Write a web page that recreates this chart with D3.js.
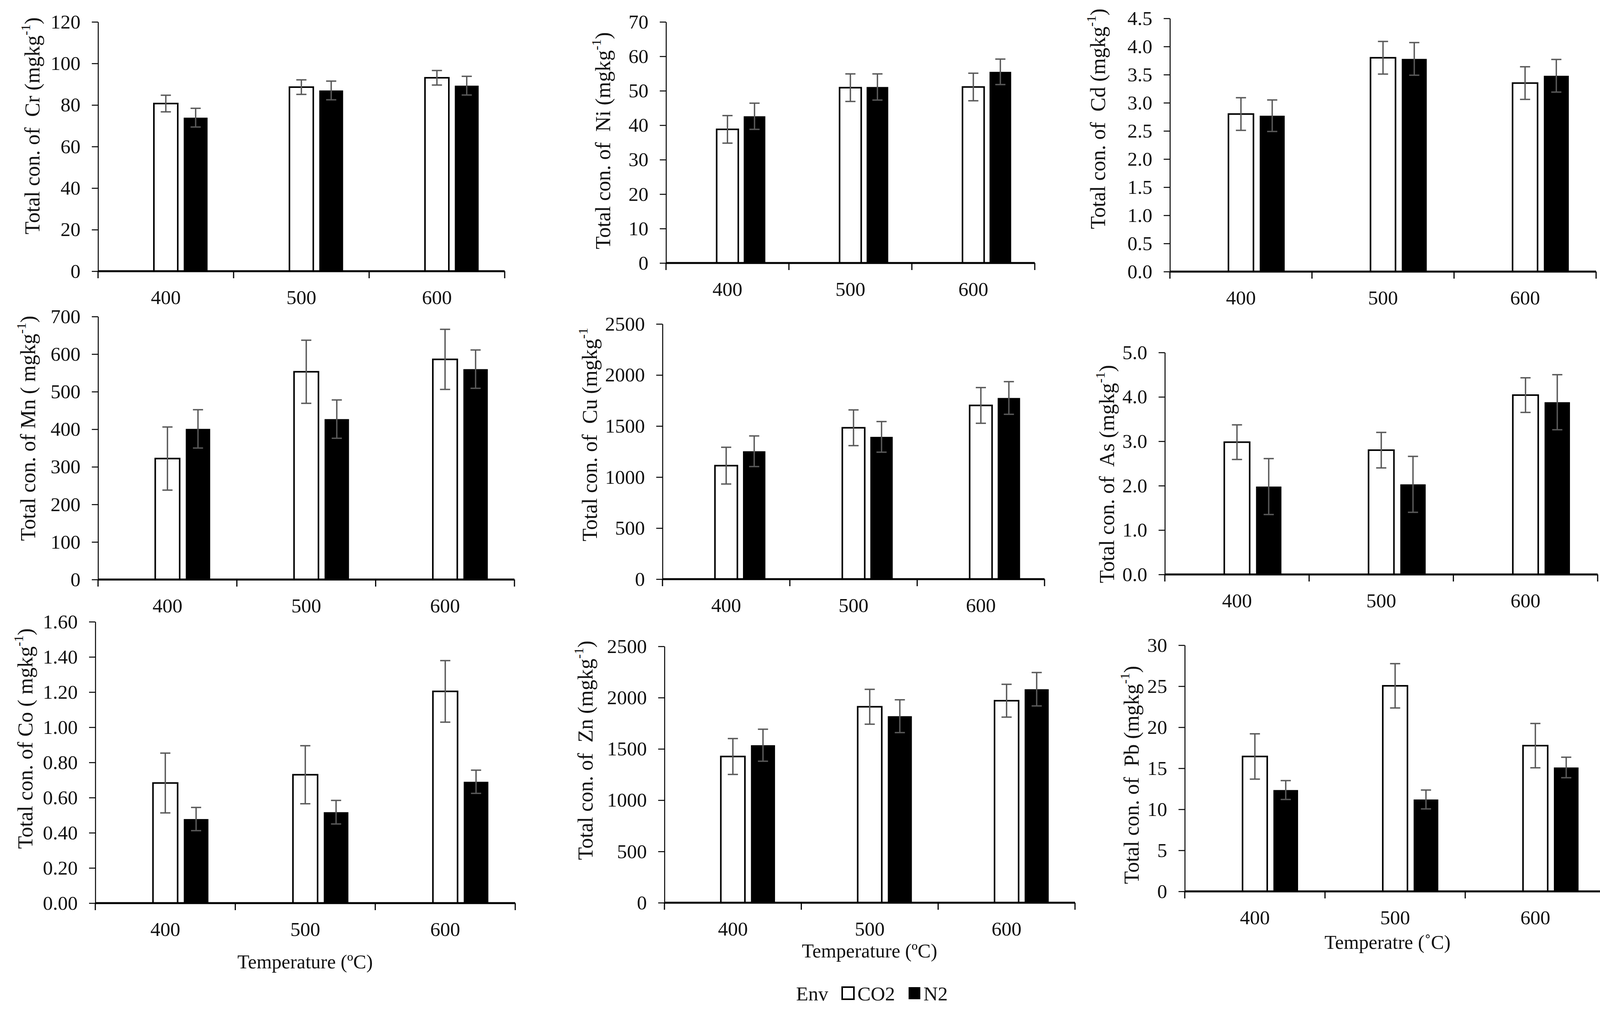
<!DOCTYPE html>
<html>
<head>
<meta charset="utf-8">
<title>Total concentration of heavy metals</title>
<script src="https://d3js.org/d3.v7.min.js"></script>
<style>
  body { margin: 0; background: #fff; }
  svg { display: block; font-family: 'Liberation Serif', 'Times New Roman', serif; }
  text { white-space: pre; }
</style>
</head>
<body>
<svg id="chart" width="4144" height="2605"></svg>
<script>
// ---- data ----
var temps = ["400", "500", "600"];
var envs = ["CO2", "N2"];
var elements = ["Cr", "Ni", "Cd", "Mn", "Cu", "As", "Co", "Zn", "Pb"];
var titles = [
  "Total con. of  Cr (mgkg", "Total con. of  Ni (mgkg", "Total con. of  Cd (mgkg",
  "Total con. of Mn ( mgkg", "Total con. of  Cu (mgkg", "Total con. of  As (mgkg",
  "Total con. of Co ( mgkg", "Total con. of  Zn (mgkg", "Total con. of  Pb (mgkg"
];
var titleEnds = [")", ")", ")", ")", "", ")", ")", ")", ")"];

var co2Mean = [
  [80.7, 88.6, 93.1], [38.8, 50.9, 51.1], [2.80, 3.80, 3.35],
  [322, 553, 586], [1112, 1483, 1702], [2.98, 2.80, 4.04],
  [0.683, 0.730, 1.204], [1426, 1911, 1970], [16.44, 25.05, 17.76]
];
var co2Err = [
  [4.0, 3.5, 3.5], [4.0, 4.0, 4.0], [0.29, 0.29, 0.29],
  [84, 84, 80], [180, 175, 175], [0.39, 0.40, 0.39],
  [0.17, 0.165, 0.175], [175, 170, 160], [2.76, 2.7, 2.7]
];
var n2Mean = [
  [73.9, 87.0, 89.3], [42.6, 51.1, 55.5], [2.77, 3.78, 3.48],
  [401, 427, 560], [1253, 1394, 1775], [1.98, 2.03, 3.88],
  [0.478, 0.517, 0.690], [1536, 1819, 2082], [12.35, 11.2, 15.1]
];
var n2Err = [
  [4.5, 4.5, 4.5], [3.8, 3.8, 3.7], [0.28, 0.29, 0.29],
  [51, 51, 51], [150, 150, 160], [0.63, 0.63, 0.62],
  [0.066, 0.067, 0.066], [156, 160, 163], [1.15, 1.15, 1.25]
];
var yMax = [120, 70, 4.5, 700, 2500, 5.0, 1.60, 2500, 30];
var yStep = [20, 10, 0.5, 100, 500, 1.0, 0.20, 500, 5];
var yFormat = ["d", "d", ".1f", "d", "d", ".1f", ".2f", "d", "d"];

var xTitles = [
  {panel: 6, text: "Temperature (\u00BAC)"},
  {panel: 7, text: "Temperature (\u00BAC)"},
  {panel: 8, text: "Temperatre (\u02DAC)"}
];

// ---- layout (pixel frame of every panel) ----
var frames = [
  {l: 251,  r: 1292, t: 56,   b: 694,  tx: 83,   ty: 322},
  {l: 1705, r: 2649, t: 56,   b: 673,  tx: 1544, ty: 360},
  {l: 2995, r: 4086, t: 47,   b: 695,  tx: 2811, ty: 304},
  {l: 251,  r: 1317, t: 810,  b: 1483, tx: 72,   ty: 1096},
  {l: 1696, r: 2674, t: 829,  b: 1482, tx: 1510, ty: 1112},
  {l: 2982, r: 4090, t: 902,  b: 1470, tx: 2834, ty: 1213},
  {l: 244,  r: 1319, t: 1591, b: 2311, tx: 65,   ty: 1890},
  {l: 1701, r: 2752, t: 1654, b: 2310, tx: 1499, ty: 1920},
  {l: 3033, r: 4110, t: 1651, b: 2281, tx: 2897, ty: 1983}
];
var xTitlePos = [[781, 2478], [2226, 2450], [3552, 2428]];

var svg = d3.select("#chart");
var FS = 51;
var errColor = "#595959";

elements.forEach(function(el, i) {
  var f = frames[i];
  var g = svg.append("g").attr("class", "panel-" + el);

  var x = d3.scaleBand().domain(temps).range([f.l, f.r]);
  var bw = x.bandwidth();
  var s = bw * 0.22;
  // three slots, the middle one centred on the category: (hidden), CO2, N2
  var xs = d3.scaleBand().domain(["_", "CO2", "N2"])
    .range([bw / 2 - 1.5 * s, bw / 2 + 1.5 * s])
    .paddingInner(0.2).paddingOuter(0.1);

  var y = d3.scaleLinear().domain([0, yMax[i]]).range([f.b, f.t]);
  var ticks = d3.range(0, yMax[i] + yStep[i] / 2, yStep[i]);

  // y axis
  var ya = g.append("g").attr("transform", "translate(" + f.l + ",0)")
    .call(d3.axisLeft(y).tickValues(ticks).tickFormat(d3.format(yFormat[i]))
      .tickSize(16).tickSizeOuter(0).tickPadding(29));
  ya.attr("font-family", null);
  ya.select(".domain").attr("stroke", "#000").attr("stroke-width", 2.5);
  ya.selectAll(".tick line").attr("stroke", "#000").attr("stroke-width", 2.5);
  ya.selectAll(".tick text").attr("font-size", FS).attr("fill", "#111")
    .attr("font-family", "'Liberation Serif', 'Times New Roman', serif");

  // bars
  var rows = [];
  temps.forEach(function(t, k) {
    rows.push({t: t, env: "CO2", v: co2Mean[i][k], e: co2Err[i][k]});
    rows.push({t: t, env: "N2", v: n2Mean[i][k], e: n2Err[i][k]});
  });

  g.selectAll("rect.bar").data(rows).enter().append("rect")
    .attr("class", "bar")
    .attr("x", function(d) { return x(d.t) + xs(d.env); })
    .attr("width", xs.bandwidth())
    .attr("y", function(d) { return y(d.v); })
    .attr("height", function(d) { return f.b - y(d.v); })
    .attr("fill", function(d) { return d.env === "CO2" ? "#fff" : "#000"; })
    .attr("stroke", "#000")
    .attr("stroke-width", function(d) { return d.env === "CO2" ? 4 : 0; });

  // x axis line, category boundary ticks, labels
  g.append("line").attr("x1", f.l).attr("x2", f.r).attr("y1", f.b).attr("y2", f.b)
    .attr("stroke", "#000").attr("stroke-width", 5);
  var bounds = temps.map(function(t) { return x(t); }).concat([x.range()[1]]);
  g.selectAll("line.xt").data(bounds).enter().append("line")
    .attr("class", "xt")
    .attr("x1", function(d) { return d; }).attr("x2", function(d) { return d; })
    .attr("y1", f.b).attr("y2", f.b + 18)
    .attr("stroke", "#000").attr("stroke-width", 3);
  g.selectAll("text.xl").data(temps).enter().append("text")
    .attr("class", "xl")
    .attr("x", function(d) { return x(d) + bw / 2; })
    .attr("y", f.b + 84)
    .attr("text-anchor", "middle").attr("font-size", FS).attr("fill", "#111")
    .text(function(d) { return d; });

  // error bars
  var cx = function(d) { return x(d.t) + xs(d.env) + xs.bandwidth() / 2; };
  var eb = g.selectAll("g.err").data(rows).enter().append("g").attr("class", "err")
    .attr("stroke", errColor).attr("stroke-width", 3.5);
  eb.append("line").attr("x1", cx).attr("x2", cx)
    .attr("y1", function(d) { return y(d.v - d.e); })
    .attr("y2", function(d) { return y(d.v + d.e); });
  eb.append("line").attr("x1", function(d) { return cx(d) - 13; })
    .attr("x2", function(d) { return cx(d) + 13; })
    .attr("y1", function(d) { return y(d.v + d.e); })
    .attr("y2", function(d) { return y(d.v + d.e); });
  eb.append("line").attr("x1", function(d) { return cx(d) - 13; })
    .attr("x2", function(d) { return cx(d) + 13; })
    .attr("y1", function(d) { return y(d.v - d.e); })
    .attr("y2", function(d) { return y(d.v - d.e); });

  // y title
  var tt = g.append("text")
    .attr("transform", "translate(" + f.tx + "," + f.ty + ") rotate(-90)")
    .attr("text-anchor", "middle").attr("dominant-baseline", "central")
    .attr("font-size", 54).attr("fill", "#111");
  tt.append("tspan").text(titles[i]);
  tt.append("tspan").attr("font-size", 34).attr("dy", -18).text("-1");
  tt.append("tspan").attr("dy", 18).text(titleEnds[i]);
});

// x titles
xTitles.forEach(function(d, k) {
  svg.append("text")
    .attr("x", xTitlePos[k][0]).attr("y", xTitlePos[k][1])
    .attr("text-anchor", "middle").attr("font-size", 50).attr("fill", "#111")
    .text(d.text);
});

// legend
var lg = svg.append("g").attr("class", "legend");
lg.append("text").attr("x", 2038).attr("y", 2560).attr("font-size", FS).attr("fill", "#111").text("Env");
var legX = [2156, 2326];
var legTextX = [2195, 2364];
envs.forEach(function(e, k) {
  lg.append("rect").attr("x", legX[k]).attr("y", 2526).attr("width", 30).attr("height", 31)
    .attr("fill", e === "CO2" ? "#fff" : "#000")
    .attr("stroke", "#000").attr("stroke-width", e === "CO2" ? 4 : 0);
  lg.append("text").attr("x", legTextX[k]).attr("y", 2560).attr("font-size", FS)
    .attr("fill", "#111").text(e);
});
</script>
</body>
</html>
